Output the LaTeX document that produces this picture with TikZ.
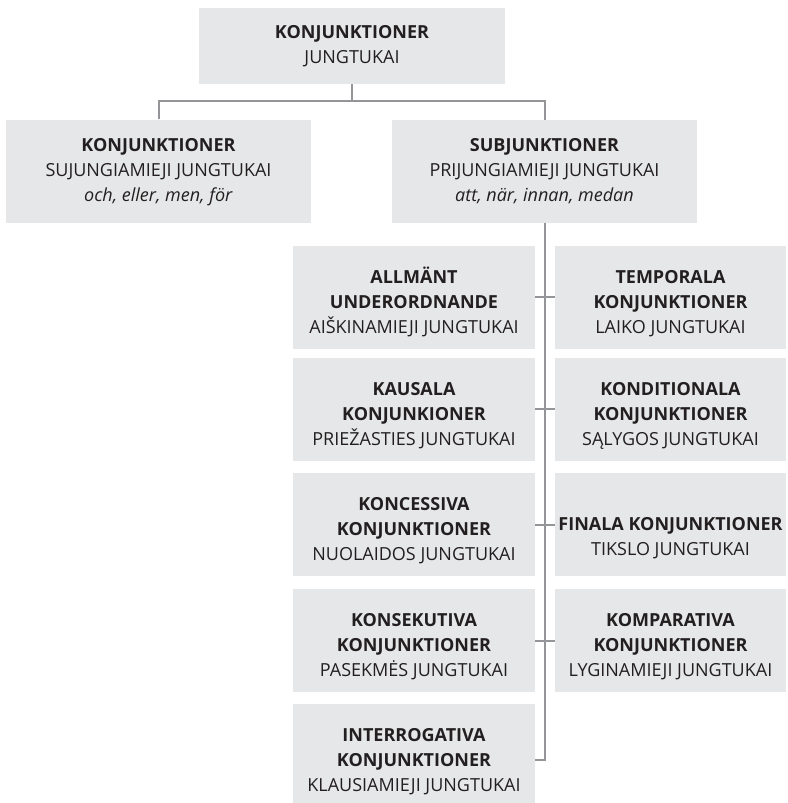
\documentclass[tikz,border=0pt]{standalone}
\usepackage{fontspec}
\setmainfont{Open Sans}
\usepackage{tikz}
\usetikzlibrary{positioning}

\definecolor{boxgray}{HTML}{E6E7E8}
\definecolor{linegray}{HTML}{939598}
\definecolor{inkblack}{HTML}{231F20}

% text block of a box, lowered a little inside the box
\newcommand{\boxtext}[2][6pt]{\raisebox{-#1}[\height][\depth]{\begin{tabular}{@{}c@{}}#2\end{tabular}}}

\begin{document}
\begin{tikzpicture}[x=1pt, y=-1pt,
    box/.style={fill=boxgray, text=inkblack, inner sep=0pt, font=\fontsize{18}{25}\selectfont},
    topbox/.style={box, minimum width=305, minimum height=103},
    leftbox/.style={box, minimum width=242, minimum height=103},
    rightbox/.style={box, minimum width=231, minimum height=103},
    link/.style={draw=linegray, line width=2pt}
]
    \useasboundingbox (0,0) rectangle (787,803);

    % top levels
    \node[box, minimum width=306, minimum height=76] (root) at (352,46)
        {\boxtext[0pt]{\textbf{KONJUNKTIONER}\\JUNGTUKAI}};
    \node[topbox] (samord) at (158.5,171)
        {\boxtext[0pt]{\textbf{KONJUNKTIONER}\\SUJUNGIAMIEJI JUNGTUKAI\\\textit{och, eller, men, för}}};
    \node[topbox] (underord) at (544.5,171.5)
        {\boxtext[0pt]{\textbf{SUBJUNKTIONER}\\PRIJUNGIAMIEJI JUNGTUKAI\\\textit{att, när, innan, medan}}};

    % subjunktioner, left column
    \node[leftbox] (allm) at (414,297)
        {\boxtext{\textbf{ALLMÄNT}\\\textbf{UNDERORDNANDE}\\AIŠKINAMIEJI JUNGTUKAI}};
    \node[leftbox] (kaus) at (414,409)
        {\boxtext{\textbf{KAUSALA}\\\textbf{KONJUNKIONER}\\PRIEŽASTIES JUNGTUKAI}};
    \node[leftbox] (konc) at (414,524.5)
        {\boxtext{\textbf{KONCESSIVA}\\\textbf{KONJUNKTIONER}\\NUOLAIDOS JUNGTUKAI}};
    \node[leftbox] (kons) at (414,640.5)
        {\boxtext{\textbf{KONSEKUTIVA}\\\textbf{KONJUNKTIONER}\\PASEKMĖS JUNGTUKAI}};
    \node[leftbox] (inter) at (414,755.5)
        {\boxtext{\textbf{INTERROGATIVA}\\\textbf{KONJUNKTIONER}\\KLAUSIAMIEJI JUNGTUKAI}};

    % subjunktioner, right column
    \node[rightbox] (temp) at (670.5,297)
        {\boxtext{\textbf{TEMPORALA}\\\textbf{KONJUNKTIONER}\\LAIKO JUNGTUKAI}};
    \node[rightbox] (kond) at (670.5,409)
        {\boxtext{\textbf{KONDITIONALA}\\\textbf{KONJUNKTIONER}\\SĄLYGOS JUNGTUKAI}};
    \node[rightbox] (fin) at (670.5,524.5)
        {\boxtext[13pt]{\textbf{FINALA KONJUNKTIONER}\\TIKSLO JUNGTUKAI}};
    \node[rightbox] (komp) at (670.5,640.5)
        {\boxtext{\textbf{KOMPARATIVA}\\\textbf{KONJUNKTIONER}\\LYGINAMIEJI JUNGTUKAI}};

    % connectors
    \coordinate (bus) at (352,101);
    \draw[link] (root.south) -- (bus);
    \draw[link] (samord.north) |- (bus) -| (underord.north);
    \draw[link] (underord.south) |- ([yshift=-4.5pt]inter.east);
    \foreach \l/\r in {allm/temp, kaus/kond, konc/fin, kons/komp}
        \draw[link] (\l.east) -- (\r.west);
\end{tikzpicture}
\end{document}
